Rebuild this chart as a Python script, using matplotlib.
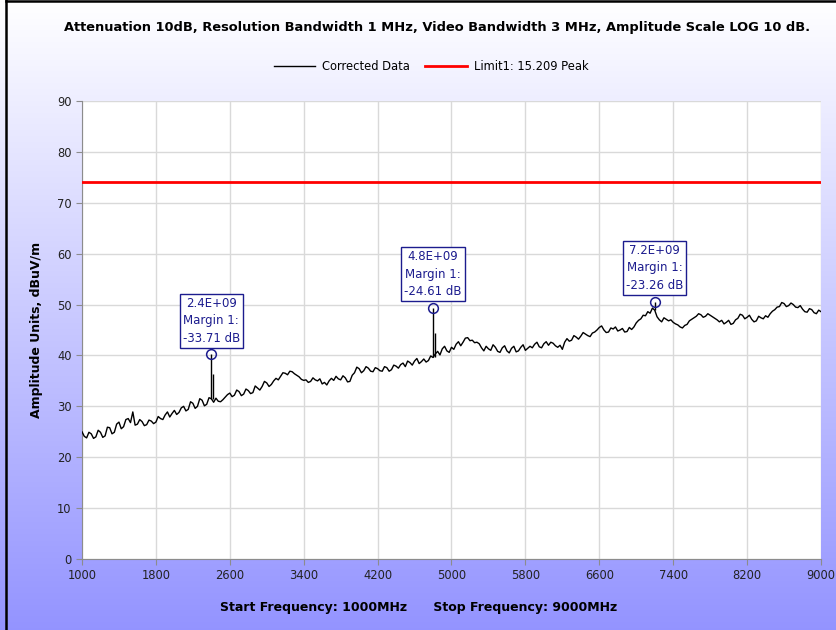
import numpy as np
import matplotlib
matplotlib.use('Agg')
import matplotlib.pyplot as plt
from matplotlib.lines import Line2D

# trace, 25 MHz steps from 1000 to 9000 MHz
freq = np.arange(1000, 9001, 25)
level = [
    25.0, 24.1, 23.8, 24.9, 24.6, 23.7, 24.0, 25.3, 24.9, 23.9, 24.2, 25.9, 25.8, 24.6, 24.9, 26.5, 26.9, 25.6, 26.0, 27.4,
    27.6, 26.8, 28.9, 26.3, 26.5, 27.4, 27.0, 26.2, 26.4, 27.3, 27.1, 26.6, 26.9, 28.0, 27.6, 27.4, 28.3, 28.9, 27.9, 28.6,
    29.2, 28.4, 28.8, 29.7, 30.0, 29.1, 29.4, 30.9, 30.6, 29.6, 30.0, 31.5, 31.2, 30.1, 30.4, 31.7, 31.5, 30.8, 31.6, 31.0,
    30.9, 31.3, 31.8, 32.3, 32.6, 31.9, 32.2, 33.2, 32.9, 32.1, 32.4, 33.4, 33.1, 32.5, 32.7, 34.0, 33.6, 33.2, 33.9, 34.9,
    34.6, 33.9, 34.3, 35.0, 35.5, 35.2, 35.9, 36.6, 36.5, 36.2, 36.9, 36.8, 36.4, 36.1, 35.8, 35.3, 35.1, 35.2, 34.7, 34.9,
    35.6, 35.2, 35.0, 35.4, 34.4, 34.7, 34.2, 35.0, 35.5, 35.1, 35.9, 35.4, 35.2, 36.0, 35.6, 34.8, 34.9, 36.1, 36.6, 37.7,
    37.4, 36.6, 37.0, 37.8, 37.5, 36.9, 36.8, 37.6, 37.4, 37.0, 36.9, 37.8, 37.6, 36.9, 37.2, 38.1, 37.9, 37.5, 38.2, 38.5,
    37.8, 38.9, 38.6, 38.1, 38.9, 39.4, 38.4, 38.8, 39.3, 38.7, 39.0, 39.9, 39.6, 40.3, 40.8, 40.1, 41.3, 41.8, 40.9, 40.6,
    41.6, 41.2, 42.2, 42.7, 41.9, 42.6, 43.4, 43.5, 42.9, 43.0, 42.5, 42.6, 42.3, 41.5, 40.9, 41.8, 41.3, 41.0, 42.1, 41.6,
    40.8, 40.6, 41.5, 41.9, 40.9, 40.5, 41.4, 41.8, 40.7, 40.9, 41.6, 42.1, 41.0, 41.4, 41.8, 41.5, 42.2, 42.6, 41.7, 41.5,
    42.3, 42.7, 42.0, 42.6, 42.4, 41.9, 41.6, 42.0, 41.2, 42.6, 43.3, 42.8, 43.0, 43.9, 43.6, 43.2, 43.8, 44.5, 44.2, 43.9,
    43.7, 44.4, 44.6, 45.0, 45.5, 45.8, 45.0, 44.5, 44.6, 45.4, 45.2, 45.6, 44.8, 45.0, 45.3, 44.6, 44.7, 45.5, 45.1, 45.6,
    46.4, 46.9, 47.2, 47.9, 47.8, 48.6, 48.3, 49.3, 48.9, 47.6, 47.0, 46.6, 47.4, 47.1, 46.8, 47.0, 46.5, 46.2, 46.0, 45.6,
    45.4, 45.9, 46.1, 46.8, 47.1, 47.4, 47.7, 48.2, 48.0, 47.5, 47.7, 48.2, 47.9, 47.6, 47.3, 47.0, 46.6, 46.9, 46.2, 46.5,
    46.9, 46.1, 46.3, 47.0, 47.3, 48.1, 47.9, 47.2, 47.5, 47.9, 47.1, 46.6, 46.8, 47.7, 47.4, 47.2, 47.8, 47.5, 48.2, 48.7,
    49.0, 49.5, 49.6, 50.4, 50.2, 49.6, 49.8, 50.3, 50.0, 49.5, 49.4, 49.8, 49.1, 48.6, 48.5, 49.2, 49.0, 48.4, 48.2, 48.9,
    48.6,
]
limit = 74.0

# margin markers
spike_freq = [2400, 4800, 7200]
spike_base = [31.5, 39.6, 48.9]
spike_peak = [40.2, 49.3, 50.6]
shoulder_freq = [2420, 4820]
shoulder_peak = [36.3, 44.4]
spike_text = ['2.4E+09\nMargin 1:\n-33.71 dB',
              '4.8E+09\nMargin 1:\n-24.61 dB',
              '7.2E+09\nMargin 1:\n-23.26 dB']

xticks = list(range(1000, 9001, 800))
yticks = list(range(0, 91, 10))

plt.rcParams['font.family'] = ['DejaVu Sans']
navy = '#1c1c8e'

fig = plt.figure(figsize=(8.37, 6.30), dpi=100)

# background gradient white -> lavender
bg = fig.add_axes([0, 0, 1, 1], zorder=-10)
grad = np.linspace(0, 1, 256).reshape(-1, 1)
top = np.array([1.0, 1.0, 1.0])
bot = np.array([0.58, 0.58, 1.0])
img = top[None, None, :] * (1 - grad[:, :, None]) + bot[None, None, :] * grad[:, :, None]
bg.imshow(img, aspect='auto', extent=[0, 1, 0, 1])
bg.axis('off')

ax = fig.add_axes([82/837, 1 - 559/630, (821-82)/837, (559-101)/630])
ax.set_facecolor('white')
ax.plot(freq, level, color='black', lw=1.0, label='Corrected Data', zorder=3)
ax.axhline(limit, color='#ff0000', lw=2, label='Limit1: 15.209 Peak', zorder=4)
ax.vlines(spike_freq, spike_base, spike_peak, color='black', lw=1.0, zorder=3)
ax.vlines(shoulder_freq, spike_base[:2], shoulder_peak, color='black', lw=1.0, zorder=3)
ax.plot(spike_freq, spike_peak, 'o', ms=7, mfc='none', mec=navy, mew=1.1, zorder=5)
for f, p, t in zip(spike_freq, spike_peak, spike_text):
    ax.annotate(t, xy=(f, p), xytext=(0, 7), textcoords='offset points',
                ha='center', va='bottom', fontsize=8.5, color=navy, linespacing=1.45,
                bbox=dict(boxstyle='square,pad=0.25', fc='white', ec=navy, lw=1), zorder=6)

ax.set_xlim(1000, 9000)
ax.set_ylim(0, 90)
ax.set_xticks(xticks)
ax.set_yticks(yticks)
ax.grid(True, color='#d9d9d9', lw=1)
ax.set_axisbelow(True)
for s in ['top', 'right']:
    ax.spines[s].set_visible(False)
for s in ['left', 'bottom']:
    ax.spines[s].set_color('#8c8c8c')
ax.tick_params(colors='#8c8c8c', labelcolor='#222222', labelsize=8.3, length=4)

ax.set_ylabel('Amplitude Units, dBuV/m', fontsize=9, fontweight='bold', labelpad=10)
fig.text(0.5, 1 - 607/630, 'Start Frequency: 1000MHz      Stop Frequency: 9000MHz',
         ha='center', va='center', fontsize=9, fontweight='bold')
fig.text(0.522, 1 - 28/630,
         'Attenuation 10dB, Resolution Bandwidth 1 MHz, Video Bandwidth 3 MHz, Amplitude Scale LOG 10 dB.',
         ha='center', va='center', fontsize=9.4, fontweight='bold')

h, l = ax.get_legend_handles_labels()
fig.legend(h, l, loc='center', bbox_to_anchor=(0.515, 1 - 67/630), ncol=2, frameon=False,
           fontsize=8.3, handlelength=3.6, columnspacing=1.3, handletextpad=0.6)

# screenshot frame
fig.add_artist(Line2D([6/837, 6/837], [0, 1], color='black', lw=1.8, transform=fig.transFigure))
fig.add_artist(Line2D([6/837, 1], [1 - 1/630, 1 - 1/630], color='black', lw=1.8, transform=fig.transFigure))

fig.savefig('out.png', dpi=100)
